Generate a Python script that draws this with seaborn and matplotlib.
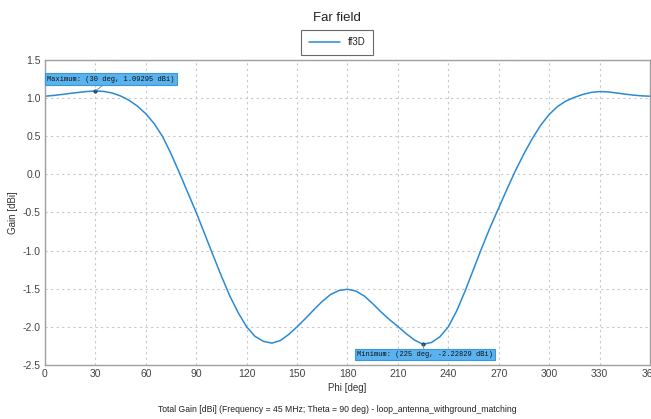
import matplotlib
matplotlib.use("Agg")
import matplotlib.pyplot as plt
import seaborn as sns
import pandas as pd

phi = [0, 5, 10, 15, 20, 25, 30, 35, 40, 45, 50, 55, 60, 65, 70, 75, 80, 85, 90,
       95, 100, 105, 110, 115, 120, 125, 130, 135, 140, 145, 150, 155, 160, 165,
       170, 175, 180, 185, 190, 195, 200, 205, 210, 215, 220, 225, 230, 235, 240,
       245, 250, 255, 260, 265, 270, 275, 280, 285, 290, 295, 300, 305, 310, 315,
       320, 325, 330, 335, 340, 345, 350, 355, 360]
gain = [1.025, 1.035, 1.048, 1.062, 1.075, 1.087, 1.093, 1.088, 1.067, 1.028, 0.972,
        0.895, 0.795, 0.665, 0.495, 0.270, 0.020, -0.240, -0.500,
        -0.780, -1.060, -1.335, -1.595, -1.815, -2.000, -2.125, -2.190, -2.213,
        -2.180, -2.100, -2.000, -1.890, -1.775, -1.665, -1.575, -1.522, -1.507,
        -1.530, -1.595, -1.695, -1.805, -1.905, -1.995, -2.090, -2.175, -2.228,
        -2.205, -2.130, -2.000, -1.790, -1.530, -1.245, -0.960, -0.690, -0.440,
        -0.190, 0.050, 0.270, 0.470, 0.645, 0.785, 0.890, 0.962, 1.010, 1.048,
        1.075, 1.086, 1.082, 1.068, 1.053, 1.040, 1.030, 1.025]

xticks = [0, 30, 60, 90, 120, 150, 180, 210, 240, 270, 300, 330, 360]
yticks = [-2.5, -2.0, -1.5, -1.0, -0.5, 0.0, 0.5, 1.0, 1.5]

max_pt = (30, 1.09295)
min_pt = (225, -2.22829)

df = pd.DataFrame({"Phi": phi, "Gain": gain})

sns.set_style("white")
plt.rcParams["font.family"] = ["Liberation Sans", "DejaVu Sans"]

fig = plt.figure(figsize=(6.51, 4.19), dpi=100)
ax = fig.add_axes([0.0691, 0.1289, 0.9293, 0.7279])

blue = "#2a8ad6"
sns.lineplot(data=df, x="Phi", y="Gain", ax=ax, color=blue, linewidth=1.1,
             label="ff3D")

ax.set_xlim(0, 360)
ax.set_ylim(-2.5, 1.5)
ax.set_xticks(xticks)
ax.set_yticks(yticks)
ax.set_xticklabels([str(t) for t in xticks], fontsize=7.5, color="#444444")
ax.set_yticklabels([f"{t:.1f}" for t in yticks], fontsize=7.5, color="#444444")
ax.tick_params(length=0, pad=3)
ax.grid(True, linestyle=(0, (2, 3)), color="#c8c8c8", linewidth=0.8)
for s in ax.spines.values():
    s.set_color("#a0a0a0")
    s.set_linewidth(1.0)

ax.set_xlabel("Phi [deg]", fontsize=7, color="#333333", labelpad=3)
ax.set_ylabel("Gain [dBi]", fontsize=7, color="#333333")
ax.yaxis.set_label_coords(-0.045, 0.5)

fig.text(0.518, 0.958, "Far field", ha="center", va="center", fontsize=9.5,
         color="#222222")
fig.text(0.518, 0.022, "Total Gain [dBi] (Frequency = 45 MHz; Theta = 90 deg) - "
         "loop_antenna_withground_matching", ha="center", va="center",
         fontsize=6.2, color="#222222")

leg = ax.legend(loc="center", bbox_to_anchor=(0.4826, 1.0574), fontsize=7,
                frameon=True, fancybox=False, handlelength=3.2,
                borderpad=0.75, edgecolor="#444444")
leg.get_frame().set_linewidth(0.8)

box = dict(boxstyle="square,pad=0.3", facecolor="#5ab2ef", edgecolor="#3c96dc",
           linewidth=0.8)
ax.plot(*max_pt, marker="o", markersize=2, color="#1a4a70")
ax.plot(*min_pt, marker="o", markersize=2, color="#1a4a70")
ax.annotate(f"Maximum: ({max_pt[0]} deg, {max_pt[1]:.5f} dBi)", xy=max_pt,
            xytext=(1.2, 1.25), textcoords="data", ha="left", va="center",
            fontsize=5, family="Liberation Mono", color="#111111", bbox=box,
            arrowprops=dict(arrowstyle="-", color="#5a8ab0", lw=0.6,
                            shrinkA=0, shrinkB=0))
ax.annotate(f"Minimum: ({min_pt[0]} deg, {min_pt[1]:.5f} dBi)", xy=min_pt,
            xytext=(185.5, -2.363), textcoords="data", ha="left", va="center",
            fontsize=5, family="Liberation Mono", color="#111111", bbox=box,
            arrowprops=dict(arrowstyle="-", color="#5a8ab0", lw=0.6,
                            shrinkA=0, shrinkB=0))

fig.savefig("out.png", dpi=100)
